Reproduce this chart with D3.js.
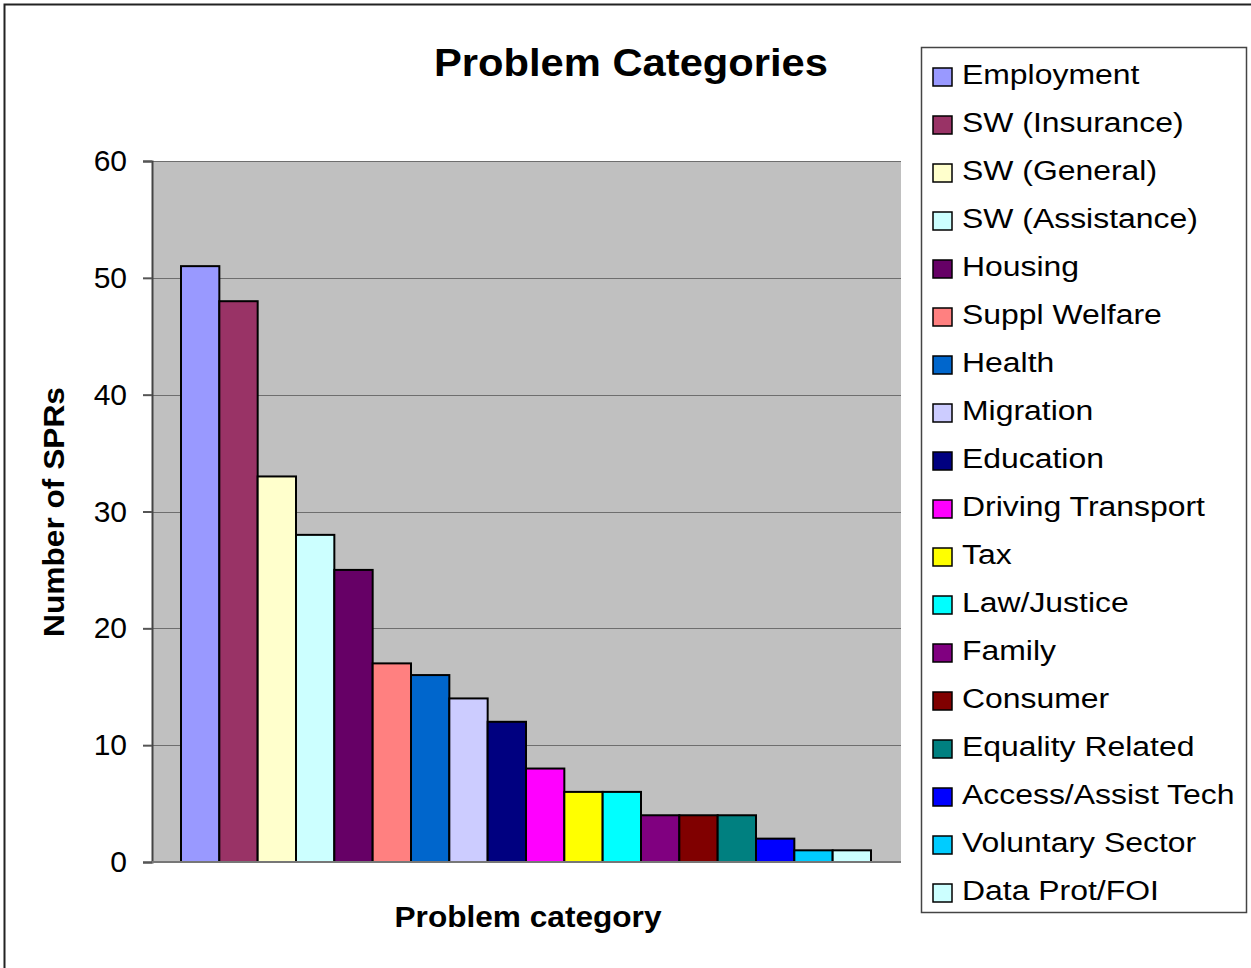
<!DOCTYPE html>
<html>
<head>
<meta charset="utf-8">
<script src="https://cdn.jsdelivr.net/npm/d3@7"></script>
<style>
  html, body { margin: 0; padding: 0; background: #fff; }
  svg { display: block; font-family: "Liberation Sans", Arial, sans-serif; }
</style>
</head>
<body>
<svg id="chart" width="1251" height="968"></svg>
<script>
// Problem categories, in bar / legend order
const categories = [
  "Employment", "SW (Insurance)", "SW (General)", "SW (Assistance)", "Housing",
  "Suppl Welfare", "Health", "Migration", "Education", "Driving Transport",
  "Tax", "Law/Justice", "Family", "Consumer", "Equality Related",
  "Access/Assist Tech", "Voluntary Sector", "Data Prot/FOI"
];
const counts = [51, 48, 33, 28, 25, 17, 16, 14, 12, 8, 6, 6, 4, 4, 4, 2, 1, 1];
const colors = [
  "#9999FF", "#993366", "#FFFFCC", "#CCFFFF", "#660066",
  "#FF8080", "#0066CC", "#CCCCFF", "#000080", "#FF00FF",
  "#FFFF00", "#00FFFF", "#800080", "#800000", "#008080",
  "#0000FF", "#00CCFF", "#CCFFFF"
];
const yTicks = [0, 10, 20, 30, 40, 50, 60];

const svg = d3.select("#chart");

// Outer chart frame
svg.append("rect")
  .attr("x", 4.5).attr("y", 4.5)
  .attr("width", 1300).attr("height", 1000)
  .attr("fill", "#fff").attr("stroke", "#222").attr("stroke-width", 2);

const plot = { left: 152, top: 161, right: 901, bottom: 862 };

const y = d3.scaleLinear().domain([0, 60]).range([plot.bottom, plot.top]);
const x = d3.scaleBand().domain(categories).range([181, 871]).padding(0);

// Plot background
svg.append("rect")
  .attr("x", plot.left).attr("y", plot.top)
  .attr("width", plot.right - plot.left).attr("height", plot.bottom - plot.top)
  .attr("fill", "#C0C0C0");

// Horizontal gridlines
svg.append("g").selectAll("line")
  .data(yTicks.filter(t => t > 0))
  .join("line")
  .attr("x1", plot.left).attr("x2", plot.right)
  .attr("y1", d => Math.round(y(d)) + 0.5).attr("y2", d => Math.round(y(d)) + 0.5)
  .attr("stroke", "#6e6e6e").attr("stroke-width", 1);

// Bars
svg.append("g").selectAll("rect")
  .data(categories)
  .join("rect")
  .attr("x", d => x(d))
  .attr("y", (d, i) => y(counts[i]))
  .attr("width", x.bandwidth())
  .attr("height", (d, i) => plot.bottom - y(counts[i]))
  .attr("fill", (d, i) => colors[i])
  .attr("stroke", "#000").attr("stroke-width", 2);

// Y axis
const yAxis = d3.axisLeft(y).tickValues(yTicks).tickSize(9).tickPadding(16);
const gy = svg.append("g")
  .attr("transform", `translate(${plot.left},0)`)
  .call(yAxis);
gy.select(".domain").attr("stroke", "#444").attr("stroke-width", 2);
gy.selectAll(".tick line").attr("stroke", "#555").attr("stroke-width", 2);
gy.selectAll(".tick text")
  .attr("font-size", 30).attr("fill", "#000")
  .attr("font-family", "'Liberation Sans', Arial, sans-serif");

// X axis baseline
svg.append("line")
  .attr("x1", plot.left).attr("x2", plot.right)
  .attr("y1", plot.bottom).attr("y2", plot.bottom)
  .attr("stroke", "#777").attr("stroke-width", 2);

// Title and axis titles
svg.append("text")
  .attr("x", 631).attr("y", 76)
  .attr("text-anchor", "middle")
  .attr("font-size", 39).attr("font-weight", "bold")
  .attr("textLength", 394).attr("lengthAdjust", "spacingAndGlyphs")
  .text("Problem Categories");

svg.append("text")
  .attr("transform", "translate(64,512) rotate(-90)")
  .attr("text-anchor", "middle")
  .attr("font-size", 30).attr("font-weight", "bold")
  .attr("textLength", 250).attr("lengthAdjust", "spacingAndGlyphs")
  .text("Number of SPRs");

svg.append("text")
  .attr("x", 528).attr("y", 927)
  .attr("text-anchor", "middle")
  .attr("font-size", 30).attr("font-weight", "bold")
  .attr("textLength", 267).attr("lengthAdjust", "spacingAndGlyphs")
  .text("Problem category");

// Legend
const legend = svg.append("g");
legend.append("rect")
  .attr("x", 921.5).attr("y", 47.5)
  .attr("width", 325).attr("height", 865)
  .attr("fill", "#fff").attr("stroke", "#444").attr("stroke-width", 1.5);

const items = legend.selectAll("g.item")
  .data(categories)
  .join("g")
  .attr("class", "item")
  .attr("transform", (d, i) => `translate(0,${74 + i * 48})`);

items.append("rect")
  .attr("x", 933).attr("y", -6)
  .attr("width", 19).attr("height", 18)
  .attr("fill", (d, i) => colors[i])
  .attr("stroke", "#000").attr("stroke-width", 1.5);

items.append("text")
  .attr("transform", "translate(962,10) scale(1.14,1)")
  .attr("font-size", 28)
  .text(d => d);
</script>
</body>
</html>
